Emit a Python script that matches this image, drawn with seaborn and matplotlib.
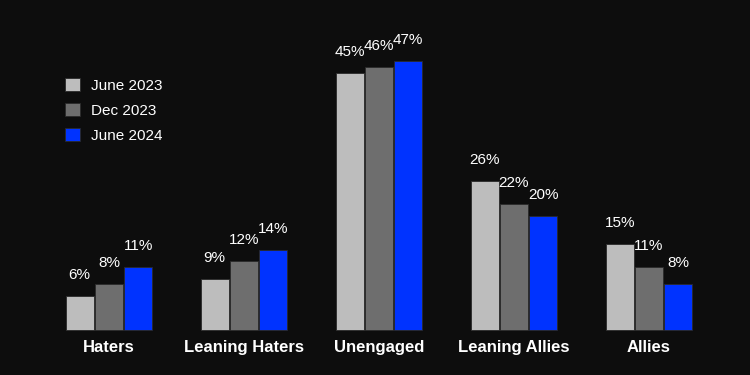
import matplotlib
matplotlib.use("Agg")
import matplotlib.pyplot as plt
import seaborn as sns
import pandas as pd

categories = ["Haters", "Leaning Haters", "Unengaged", "Leaning Allies", "Allies"]
periods = ["June 2023", "Dec 2023", "June 2024"]
june_2023 = [6, 9, 45, 26, 15]
dec_2023 = [8, 12, 46, 22, 11]
june_2024 = [11, 14, 47, 20, 8]
colors = ["#bdbdbd", "#6e6e6e", "#0033ff"]

rows = []
for period, vals in zip(periods, [june_2023, dec_2023, june_2024]):
    for cat, v in zip(categories, vals):
        rows.append({"category": cat, "period": period, "value": v})
df = pd.DataFrame(rows)

bg = "#0d0d0d"
sns.set_theme(style="white")
plt.rcParams["font.family"] = ["Liberation Sans", "DejaVu Sans"]

fig = plt.figure(figsize=(7.5, 3.75), dpi=100, facecolor=bg)
ax = fig.add_axes([0, 0, 1, 1])
ax.set_facecolor(bg)

sns.barplot(data=df, x="category", y="value", hue="period", palette=colors,
            saturation=1, width=0.65, gap=0.03, edgecolor="#2a2a2a",
            linewidth=0.6, ax=ax)

for cont in ax.containers:
    ax.bar_label(cont, labels=[f"{v:.0f}%" for v in cont.datavalues],
                 padding=10, color="white", fontsize=11)

ax.set_xlim(-0.807, 4.748)
ax.set_ylim(-7.87, 57.7)
for s in ax.spines.values():
    s.set_visible(False)
ax.set_xticks([])
ax.set_yticks([])
ax.set_xlabel("")
ax.set_ylabel("")

for i, cat in enumerate(categories):
    ax.text(i, -3.0, cat, ha="center", va="center", color="white",
            fontsize=12, fontweight="bold")

leg = ax.legend(loc="upper left", bbox_to_anchor=(0.068, 0.83), frameon=False,
                fontsize=11, labelcolor="white", handlelength=1.0, handleheight=1.0,
                labelspacing=0.65, handletextpad=0.7)

fig.savefig("out.png", dpi=100, facecolor=bg)
